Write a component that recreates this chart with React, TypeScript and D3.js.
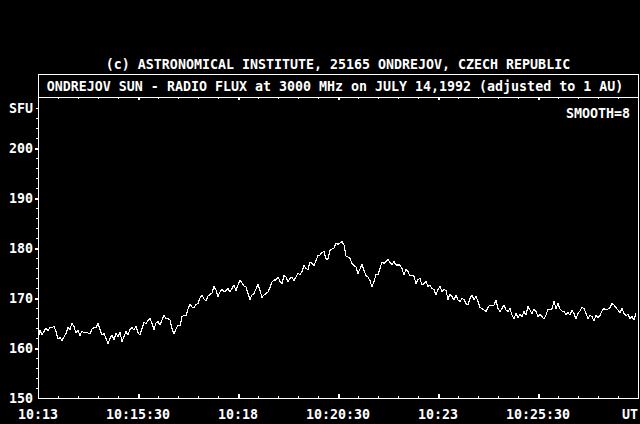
import { useEffect, useRef } from 'react';
import * as d3 from 'd3';

// time in seconds of the day, UT
const startSec = 10 * 3600 + 13 * 60;
const endSec = 10 * 3600 + 28 * 60;
const stepSec = 3;

const topTitle = '(c) ASTRONOMICAL INSTITUTE, 25165 ONDREJOV, CZECH REPUBLIC';
const chartTitle = 'ONDREJOV SUN - RADIO FLUX at 3000 MHz on JULY 14,1992 (adjusted to 1 AU)';
const smoothLabel = 'SMOOTH=8';
const unitLabel = 'SFU';

const timeTickLabels = ['10:13', '10:15:30', '10:18', '10:20:30', '10:23', '10:25:30', 'UT'];
const fluxTicks = [150, 160, 170, 180, 190, 200];

// flux (SFU) sampled every 3 s from 10:13:00
const flux = [
    161.6, 163.6, 162.6, 163.3, 164.0, 163.4, 164.2, 164.0, 164.4, 163.3,
    161.8, 162.1, 161.5, 162.2, 162.9, 164.1, 163.7, 165.0, 164.3, 163.0,
    163.5, 162.5, 163.4, 163.0, 163.2, 163.0, 162.8, 163.8, 164.1, 164.0,
    164.9, 163.7, 162.6, 162.9, 161.9, 160.9, 161.9, 162.6, 161.7, 162.9,
    162.3, 163.1, 161.3, 162.3, 163.3, 162.6, 163.7, 164.1, 163.6, 164.4,
    163.1, 162.6, 163.9, 165.1, 164.9, 165.5, 165.9, 164.9, 163.7, 165.0,
    165.3, 164.6, 165.6, 166.6, 165.9, 165.9, 165.6, 163.9, 162.8, 163.8,
    164.6, 164.4, 166.3, 166.5, 166.4, 167.8, 168.8, 168.2, 168.0, 168.7,
    168.9, 170.0, 170.6, 169.8, 169.4, 170.4, 170.7, 171.0, 172.3, 171.6,
    170.3, 171.2, 171.8, 171.2, 171.5, 171.9, 171.2, 171.9, 172.6, 171.5,
    172.6, 173.5, 173.0, 172.4, 172.2, 170.9, 169.7, 170.6, 170.9, 171.8,
    172.8, 171.5, 170.1, 170.6, 170.9, 171.2, 172.1, 173.2, 173.6, 173.6,
    174.2, 173.3, 172.9, 174.5, 174.2, 173.2, 173.9, 174.2, 173.5, 174.2,
    174.9, 174.7, 175.3, 176.5, 175.9, 175.7, 177.2, 176.9, 176.5, 177.5,
    178.5, 178.6, 179.1, 179.3, 177.8, 177.8, 179.5, 179.8, 180.0, 181.0,
    180.7, 181.0, 181.3, 180.6, 178.4, 178.2, 177.9, 176.9, 176.5, 176.2,
    174.9, 175.8, 176.7, 175.5, 174.5, 174.2, 173.5, 172.2, 173.3, 174.7,
    174.6, 175.9, 177.2, 176.9, 177.3, 177.7, 177.1, 176.7, 177.3, 176.6,
    176.6, 176.6, 175.9, 174.6, 175.7, 175.3, 174.4, 174.6, 174.3, 172.9,
    173.7, 173.9, 172.6, 172.9, 173.3, 172.3, 172.6, 171.9, 171.7, 170.6,
    171.7, 172.3, 171.3, 171.7, 171.5, 169.7, 170.8, 170.3, 169.6, 170.6,
    169.6, 169.3, 169.9, 169.7, 168.9, 168.6, 169.9, 170.6, 169.6, 170.3,
    169.3, 168.1, 167.9, 167.6, 167.3, 168.1, 168.6, 168.4, 168.6, 169.5,
    167.9, 167.3, 167.9, 168.6, 167.6, 167.3, 167.9, 166.6, 165.9, 166.9,
    166.1, 166.7, 166.3, 167.3, 166.6, 168.3, 167.6, 166.9, 167.8, 167.3,
    166.3, 166.7, 166.3, 165.8, 166.6, 167.8, 167.6, 167.9, 169.3, 167.9,
    168.9, 167.8, 167.4, 167.3, 166.7, 167.1, 166.6, 167.6, 166.9, 165.8,
    166.9, 167.4, 168.1, 167.9, 166.9, 165.9, 166.5, 166.3, 165.4, 166.5,
    166.1, 166.5, 167.4, 167.9, 167.6, 167.8, 168.1, 168.9, 168.6, 168.1,
    167.6, 167.1, 167.9, 166.9, 166.5, 166.7, 165.9, 166.3, 165.6, 166.9,
];

const RadioFluxChart: React.FC = () => {
    const svgRef = useRef<SVGSVGElement>(null);

    useEffect(() => {
        if (!svgRef.current) return;
        d3.select(svgRef.current).selectAll('*').remove();

        const W = 640, H = 424;
        const left = 38, right = 638, top = 97, bottom = 398;
        const font = '"DejaVu Sans Mono", "Liberation Mono", monospace';

        const svg = d3.select(svgRef.current)
            .attr('width', W)
            .attr('height', H)
            .style('font-family', font)
            .style('font-weight', 'bold')
            .style('font-size', '13.3px');

        svg.append('rect')
            .attr('width', W)
            .attr('height', H)
            .attr('fill', '#000');

        const x = d3.scaleLinear().domain([startSec, endSec]).range([left, right]);
        const y = d3.scaleLinear().domain([150, 150 + (bottom - top) / 5]).range([bottom, top]);

        const majorTimes = d3.range(startSec, endSec + 1, 150);
        const minorTimes = d3.range(startSec, endSec + 1, 30).filter(t => (t - startSec) % 150 !== 0);
        const minorFlux = d3.range(150, 210, 2).filter(v => v % 10 !== 0);

        const styleAxis = (g: d3.Selection<SVGGElement, unknown, null, undefined>, width: number) => {
            g.select('.domain').remove();
            g.selectAll('line').attr('stroke', '#fff').attr('stroke-width', width).attr('shape-rendering', 'crispEdges');
            g.selectAll('text').remove();
        };

        // frames
        svg.append('rect')
            .attr('x', left + 0.5).attr('y', 74.5)
            .attr('width', right - left).attr('height', top - 74)
            .attr('fill', 'none').attr('stroke', '#fff').attr('shape-rendering', 'crispEdges');
        svg.append('rect')
            .attr('x', left + 0.5).attr('y', top + 0.5)
            .attr('width', right - left).attr('height', bottom - top)
            .attr('fill', 'none').attr('stroke', '#fff').attr('shape-rendering', 'crispEdges');

        // bottom ticks, pointing in
        svg.append('g').attr('transform', `translate(0,${bottom})`)
            .call(d3.axisTop(x).tickValues(minorTimes).tickSize(2))
            .call(g => styleAxis(g, 1));
        svg.append('g').attr('transform', `translate(0,${bottom})`)
            .call(d3.axisTop(x).tickValues(majorTimes.slice(1, -1)).tickSize(4))
            .call(g => styleAxis(g, 2));
        // top ticks
        svg.append('g').attr('transform', `translate(0,${top})`)
            .call(d3.axisBottom(x).tickValues(minorTimes).tickSize(2))
            .call(g => styleAxis(g, 1));
        svg.append('g').attr('transform', `translate(0,${top})`)
            .call(d3.axisBottom(x).tickValues(majorTimes.slice(1, -1)).tickSize(3))
            .call(g => styleAxis(g, 2));
        // left ticks
        svg.append('g').attr('transform', `translate(${left},0)`)
            .call(d3.axisLeft(y).tickValues(minorFlux).tickSize(2))
            .call(g => styleAxis(g, 1));
        svg.append('g').attr('transform', `translate(${left},0)`)
            .call(d3.axisLeft(y).tickValues(fluxTicks.slice(1)).tickSize(3))
            .call(g => styleAxis(g, 2));

        // tick labels
        svg.append('g')
            .selectAll('text')
            .data(fluxTicks)
            .join('text')
            .attr('x', left - 5)
            .attr('y', d => y(d) + 5)
            .attr('text-anchor', 'end')
            .attr('fill', '#fff')
            .text(d => String(d));

        svg.append('g')
            .selectAll('text')
            .data(majorTimes)
            .join('text')
            .attr('x', (d, i) => (i === majorTimes.length - 1 ? x(d) : x(d)))
            .attr('y', 419)
            .attr('text-anchor', (d, i) => (i === majorTimes.length - 1 ? 'end' : 'middle'))
            .attr('fill', '#fff')
            .text((d, i) => timeTickLabels[i]);

        // titles
        svg.append('text')
            .attr('x', (left + right) / 2).attr('y', 69)
            .attr('text-anchor', 'middle').attr('fill', '#fff')
            .text(topTitle);
        svg.append('text')
            .attr('x', (left + right) / 2 - 3).attr('y', 91)
            .attr('text-anchor', 'middle').attr('fill', '#fff')
            .text(chartTitle);
        svg.append('text')
            .attr('x', left - 5).attr('y', 113)
            .attr('text-anchor', 'end').attr('fill', '#fff')
            .text(unitLabel);
        svg.append('text')
            .attr('x', right - 8).attr('y', 118)
            .attr('text-anchor', 'end').attr('fill', '#fff')
            .text(smoothLabel);

        // flux line
        const line = d3.line<number>()
            .x((d, i) => x(startSec + i * stepSec))
            .y(d => y(d));

        svg.append('path')
            .datum(flux)
            .attr('d', line)
            .attr('fill', 'none')
            .attr('stroke', '#fff')
            .attr('stroke-width', 1.1)
            .attr('shape-rendering', 'crispEdges');
    }, []);

    return <svg ref={svgRef} style={{ position: 'absolute', left: 0, top: 0, display: 'block' }}></svg>;
};

export default function App() {
    return <RadioFluxChart />;
}
